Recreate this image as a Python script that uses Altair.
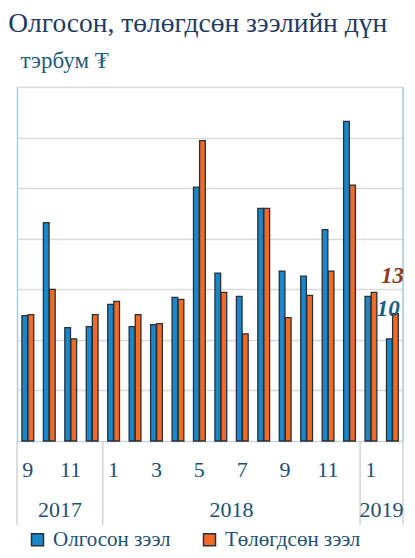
import altair as alt
import pandas as pd

months = ["9", "10", "11", "12", "1", "2", "3", "4", "5", "6", "7", "8", "9", "10", "11", "12", "1", "2"]
years = ["2017"] * 4 + ["2018"] * 12 + ["2019"] * 2
issued = [12.4, 21.6, 11.2, 11.3, 13.5, 11.3, 11.5, 14.2, 25.1, 16.6, 14.3, 23.0, 16.8, 16.3, 20.9, 31.6, 14.3, 10.1]
repaid = [12.5, 15.0, 10.1, 12.5, 13.8, 12.5, 11.6, 14.0, 29.7, 14.7, 10.6, 23.0, 12.2, 14.4, 16.8, 25.3, 14.7, 12.6]
series = ["Олгосон зээл", "Төлөгдсөн зээл"]
title_text = "Олгосон, төлөгдсөн зээлийн дүн"
unit_text = "тэрбум ₮"

BLUE = "#1b87c9"
ORANGE = "#ef6b26"
EDGE = "#28303a"
TXT = "#1d4f73"
SERIF = "Liberation Serif, Times New Roman, serif"
W, H = 386, 354

rows = []
for i in range(len(months)):
    rows.append({"idx": i, "series": series[0], "value": issued[i], "off": 0.23})
    rows.append({"idx": i, "series": series[1], "value": repaid[i], "off": 0.515})
bars_df = pd.DataFrame(rows)

xs = alt.Scale(domain=[0, len(months)], nice=False, zero=False)
ys = alt.Scale(domain=[0, 35], nice=False)

bars = alt.Chart(bars_df).transform_calculate(
    x0="datum.idx + datum.off", x1="datum.idx + datum.off + 0.265"
).mark_rect(stroke=EDGE, strokeWidth=1.3).encode(
    x=alt.X("x0:Q", scale=xs, axis=alt.Axis(labels=False, ticks=False, grid=False, title=None,
                                            domainColor="#cdd6de", domainWidth=1.5)),
    x2="x1:Q",
    y=alt.Y("value:Q", scale=ys, axis=alt.Axis(
        values=[5, 10, 15, 20, 25, 30, 35], grid=True, gridColor="#d9d9d9", gridWidth=1.5,
        labels=False, ticks=False, domainColor="#a9cde6", domainWidth=1.5,
        title=unit_text, titleAngle=0, titleX=3, titleY=-20, titleAlign="left",
        titleBaseline="alphabetic", titleFont=SERIF, titleFontSize=23,
        titleFontWeight="normal", titleColor="#1d5b7d")),
    y2=alt.datum(0),
    color=alt.Color("series:N", scale=alt.Scale(domain=series, range=[BLUE, ORANGE]),
                    legend=alt.Legend(orient="none", legendX=10, legendY=442, direction="horizontal",
                                      title=None, symbolType="square", symbolSize=144,
                                      symbolStrokeColor=EDGE, symbolStrokeWidth=1.5,
                                      labelFont=SERIF, labelFontSize=21, labelColor=TXT,
                                      columnPadding=28, labelOffset=5)),
)

# right border of plot
rb_df = pd.DataFrame({"bx": [len(months)]})
right_border = alt.Chart(rb_df).mark_rule(color="#a9cde6", strokeWidth=1.5).encode(
    x=alt.X("bx:Q", scale=xs), y=alt.value(0), y2=alt.value(H))

# separators in category axis area
sep_df = pd.DataFrame({"bx": [0, years.index("2018"), years.index("2019"), len(months)]})
seps = alt.Chart(sep_df).mark_rule(color="#d3d3d3", strokeWidth=1.5).encode(
    x=alt.X("bx:Q", scale=xs), y=alt.value(H), y2=alt.value(H + 84))

mdf = pd.DataFrame({"c": [i + 0.5 for i in range(len(months))], "m": months,
                    "show": [i % 2 == 0 for i in range(len(months))]})
month_text = alt.Chart(mdf).transform_filter("datum.show").mark_text(
    font=SERIF, fontSize=22, color=TXT, baseline="middle").encode(
    x=alt.X("c:Q", scale=xs), y=alt.value(H + 29), text="m:N")

yr_names = ["2017", "2018", "2019"]
yr_centers = []
for y in yr_names:
    first = years.index(y)
    last = len(years) - years[::-1].index(y)
    yr_centers.append((first + last) / 2)
ydf = pd.DataFrame({"c": yr_centers, "y": yr_names})
year_text = alt.Chart(ydf).mark_text(font=SERIF, fontSize=22, color=TXT, baseline="middle").encode(
    x=alt.X("c:Q", scale=xs), y=alt.value(H + 69), text="y:N")

last = len(months) - 1
lab_blue = alt.Chart(pd.DataFrame({"c": [last + 0.36], "v": [issued[-1]], "t": [str(round(issued[-1]))]})).mark_text(
    font=SERIF, fontSize=23, fontStyle="italic", fontWeight="bold", color="#1b5a84",
    baseline="middle", dx=-1, dy=-30).encode(x=alt.X("c:Q", scale=xs), y=alt.Y("v:Q", scale=ys), text="t:N")
lab_orange = alt.Chart(pd.DataFrame({"c": [last + 0.65], "v": [repaid[-1]], "t": [str(round(repaid[-1]))]})).mark_text(
    font=SERIF, fontSize=23, fontStyle="italic", fontWeight="bold", color="#8b3a17",
    baseline="middle", dx=-3, dy=-38).encode(x=alt.X("c:Q", scale=xs), y=alt.Y("v:Q", scale=ys), text="t:N")

chart = alt.layer(bars, right_border, seps, month_text, year_text, lab_blue, lab_orange).properties(
    width=W, height=H,
    autosize=alt.AutoSizeParams(type="none"),
    padding={"left": 9, "top": 79, "right": 4, "bottom": 109},
    title=alt.TitleParams(title_text, anchor="start", font=SERIF, fontSize=27.5, fontWeight="normal",
                          color="#1f3a63", dx=-8, offset=12),
).configure_view(stroke=None).configure(background="white")

chart.save("out.html", embed_options={"renderer": "svg", "actions": False})
